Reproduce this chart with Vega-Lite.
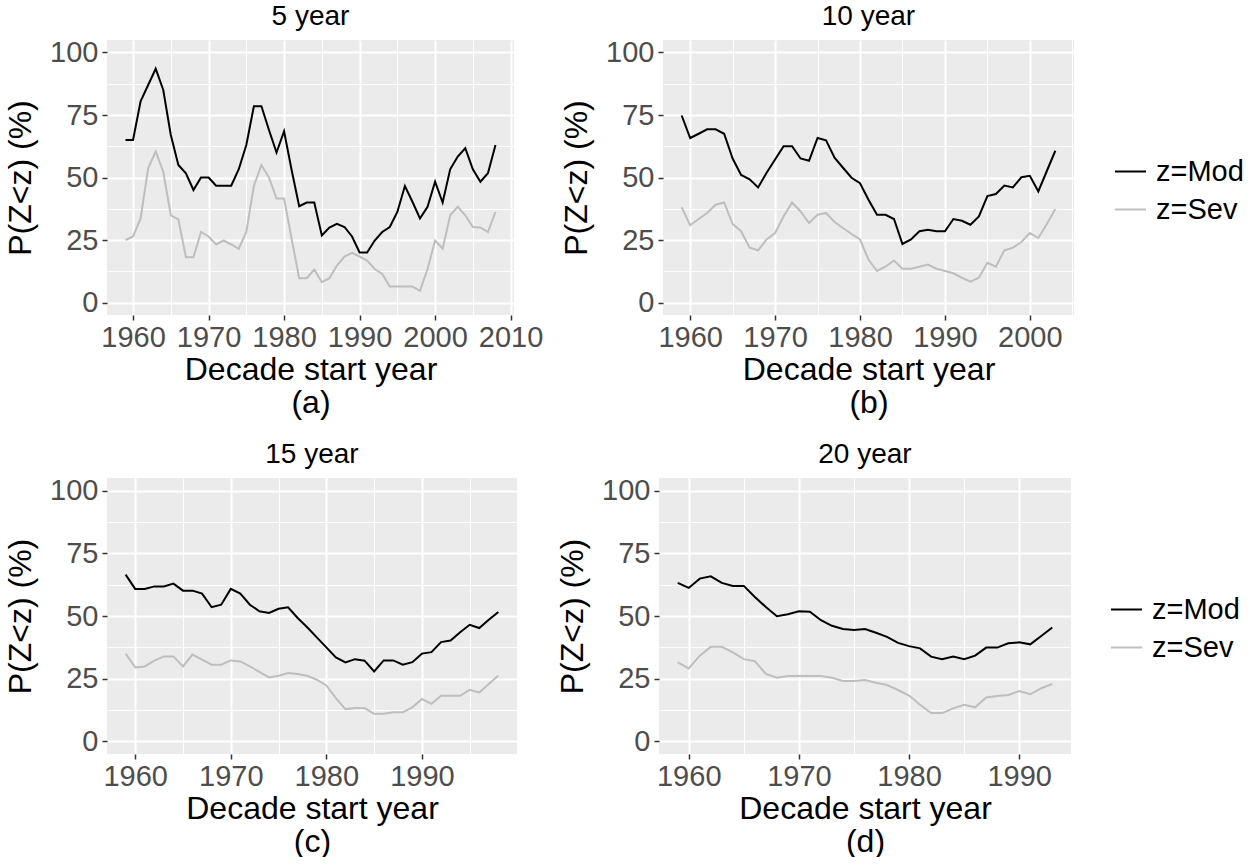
{
"$schema": "https://vega.github.io/schema/vega-lite/v6.json",
"background": "white",
"padding": {"left": 4, "top": 2, "right": 0, "bottom": 0},
"config": {
  "view": {"fill": "#EBEBEB", "stroke": null},
  "font": "Liberation Sans",
  "axis": {"domain": false, "gridColor": "white", "tickColor": "#333333", "tickSize": 5, "tickWidth": 1.5, "labelFont": "Liberation Sans", "labelFontSize": 29, "labelColor": "#4D4D4D", "titleFont": "Liberation Sans", "titleFontSize": 32, "titleFontWeight": "normal", "titleColor": "black", "labelOverlap": false, "labelFlush": false},
  "axisX": {"labelPadding": 3, "titlePadding": 2, "titleLineHeight": 33},
  "axisY": {"labelPadding": 4, "titlePadding": 12},
  "title": {"font": "Liberation Sans", "fontSize": 28, "fontWeight": "normal", "color": "black", "offset": 8},
  "legend": {"title": null, "symbolType": "stroke", "symbolStrokeWidth": 2, "symbolSize": 960, "labelFont": "Liberation Sans", "labelFontSize": 29, "labelColor": "black", "rowPadding": 6, "labelOffset": 9}
},
"datasets": {
"p5": [
{"year":1959,"z":"z=Mod","p":65},{"year":1960,"z":"z=Mod","p":65},{"year":1961,"z":"z=Mod","p":80.5},{"year":1962,"z":"z=Mod","p":87},{"year":1963,"z":"z=Mod","p":93.5},{"year":1964,"z":"z=Mod","p":85},{"year":1965,"z":"z=Mod","p":67},{"year":1966,"z":"z=Mod","p":55},{"year":1967,"z":"z=Mod","p":51.7},{"year":1968,"z":"z=Mod","p":45},{"year":1969,"z":"z=Mod","p":50},{"year":1970,"z":"z=Mod","p":50},{"year":1971,"z":"z=Mod","p":46.7},{"year":1972,"z":"z=Mod","p":46.7},{"year":1973,"z":"z=Mod","p":46.7},{"year":1974,"z":"z=Mod","p":53.3},{"year":1975,"z":"z=Mod","p":63},{"year":1976,"z":"z=Mod","p":78.5},{"year":1977,"z":"z=Mod","p":78.5},{"year":1978,"z":"z=Mod","p":69},{"year":1979,"z":"z=Mod","p":60},{"year":1980,"z":"z=Mod","p":68.5},{"year":1981,"z":"z=Mod","p":53},{"year":1982,"z":"z=Mod","p":38.5},{"year":1983,"z":"z=Mod","p":40},{"year":1984,"z":"z=Mod","p":40},{"year":1985,"z":"z=Mod","p":26.8},{"year":1986,"z":"z=Mod","p":30},{"year":1987,"z":"z=Mod","p":31.5},{"year":1988,"z":"z=Mod","p":30.2},{"year":1989,"z":"z=Mod","p":26.4},{"year":1990,"z":"z=Mod","p":20},{"year":1991,"z":"z=Mod","p":20},{"year":1992,"z":"z=Mod","p":24.8},{"year":1993,"z":"z=Mod","p":28.2},{"year":1994,"z":"z=Mod","p":30.2},{"year":1995,"z":"z=Mod","p":36.2},{"year":1996,"z":"z=Mod","p":46.6},{"year":1997,"z":"z=Mod","p":40.3},{"year":1998,"z":"z=Mod","p":33.6},{"year":1999,"z":"z=Mod","p":38.3},{"year":2000,"z":"z=Mod","p":48.3},{"year":2001,"z":"z=Mod","p":40},{"year":2002,"z":"z=Mod","p":53.3},{"year":2003,"z":"z=Mod","p":58.4},{"year":2004,"z":"z=Mod","p":61.7},{"year":2005,"z":"z=Mod","p":53.3},{"year":2006,"z":"z=Mod","p":48.3},{"year":2007,"z":"z=Mod","p":51.7},{"year":2008,"z":"z=Mod","p":63},
{"year":1959,"z":"z=Sev","p":25},{"year":1960,"z":"z=Sev","p":26.4},{"year":1961,"z":"z=Sev","p":33.6},{"year":1962,"z":"z=Sev","p":53.7},{"year":1963,"z":"z=Sev","p":60.4},{"year":1964,"z":"z=Sev","p":52.3},{"year":1965,"z":"z=Sev","p":34.9},{"year":1966,"z":"z=Sev","p":33.2},{"year":1967,"z":"z=Sev","p":18.1},{"year":1968,"z":"z=Sev","p":18.1},{"year":1969,"z":"z=Sev","p":28.2},{"year":1970,"z":"z=Sev","p":26.4},{"year":1971,"z":"z=Sev","p":23.2},{"year":1972,"z":"z=Sev","p":24.8},{"year":1973,"z":"z=Sev","p":23.2},{"year":1974,"z":"z=Sev","p":21.5},{"year":1975,"z":"z=Sev","p":28.2},{"year":1976,"z":"z=Sev","p":46.6},{"year":1977,"z":"z=Sev","p":55},{"year":1978,"z":"z=Sev","p":50},{"year":1979,"z":"z=Sev","p":41.6},{"year":1980,"z":"z=Sev","p":41.6},{"year":1981,"z":"z=Sev","p":25.5},{"year":1982,"z":"z=Sev","p":9.7},{"year":1983,"z":"z=Sev","p":9.7},{"year":1984,"z":"z=Sev","p":13.2},{"year":1985,"z":"z=Sev","p":8.1},{"year":1986,"z":"z=Sev","p":9.7},{"year":1987,"z":"z=Sev","p":14.8},{"year":1988,"z":"z=Sev","p":18.4},{"year":1989,"z":"z=Sev","p":19.9},{"year":1990,"z":"z=Sev","p":18.4},{"year":1991,"z":"z=Sev","p":16.8},{"year":1992,"z":"z=Sev","p":13.4},{"year":1993,"z":"z=Sev","p":11.4},{"year":1994,"z":"z=Sev","p":6.4},{"year":1995,"z":"z=Sev","p":6.4},{"year":1996,"z":"z=Sev","p":6.4},{"year":1997,"z":"z=Sev","p":6.4},{"year":1998,"z":"z=Sev","p":4.7},{"year":1999,"z":"z=Sev","p":13.4},{"year":2000,"z":"z=Sev","p":24.8},{"year":2001,"z":"z=Sev","p":21.5},{"year":2002,"z":"z=Sev","p":34.9},{"year":2003,"z":"z=Sev","p":38.3},{"year":2004,"z":"z=Sev","p":34.9},{"year":2005,"z":"z=Sev","p":30.2},{"year":2006,"z":"z=Sev","p":30},{"year":2007,"z":"z=Sev","p":28.2},{"year":2008,"z":"z=Sev","p":36.2}
],
"p10": [
{"year":1959,"z":"z=Mod","p":74.8},{"year":1960,"z":"z=Mod","p":65.8},{"year":1961,"z":"z=Mod","p":67.5},{"year":1962,"z":"z=Mod","p":69.3},{"year":1963,"z":"z=Mod","p":69.3},{"year":1964,"z":"z=Mod","p":67.5},{"year":1965,"z":"z=Mod","p":57.6},{"year":1966,"z":"z=Mod","p":51},{"year":1967,"z":"z=Mod","p":49.3},{"year":1968,"z":"z=Mod","p":46},{"year":1969,"z":"z=Mod","p":51.9},{"year":1970,"z":"z=Mod","p":57.2},{"year":1971,"z":"z=Mod","p":62.5},{"year":1972,"z":"z=Mod","p":62.5},{"year":1973,"z":"z=Mod","p":57.6},{"year":1974,"z":"z=Mod","p":56.7},{"year":1975,"z":"z=Mod","p":65.8},{"year":1976,"z":"z=Mod","p":64.9},{"year":1977,"z":"z=Mod","p":57.9},{"year":1978,"z":"z=Mod","p":53.9},{"year":1979,"z":"z=Mod","p":49.9},{"year":1980,"z":"z=Mod","p":47.7},{"year":1981,"z":"z=Mod","p":41.1},{"year":1982,"z":"z=Mod","p":35.1},{"year":1983,"z":"z=Mod","p":35.1},{"year":1984,"z":"z=Mod","p":33.4},{"year":1985,"z":"z=Mod","p":23.4},{"year":1986,"z":"z=Mod","p":25.2},{"year":1987,"z":"z=Mod","p":28.5},{"year":1988,"z":"z=Mod","p":29.1},{"year":1989,"z":"z=Mod","p":28.5},{"year":1990,"z":"z=Mod","p":28.5},{"year":1991,"z":"z=Mod","p":33.4},{"year":1992,"z":"z=Mod","p":32.7},{"year":1993,"z":"z=Mod","p":31.1},{"year":1994,"z":"z=Mod","p":34.4},{"year":1995,"z":"z=Mod","p":42.6},{"year":1996,"z":"z=Mod","p":43.4},{"year":1997,"z":"z=Mod","p":46.8},{"year":1998,"z":"z=Mod","p":46},{"year":1999,"z":"z=Mod","p":50.1},{"year":2000,"z":"z=Mod","p":50.7},{"year":2001,"z":"z=Mod","p":44.4},{"year":2002,"z":"z=Mod","p":52.6},{"year":2003,"z":"z=Mod","p":60.7},
{"year":1959,"z":"z=Sev","p":38.1},{"year":1960,"z":"z=Sev","p":30.9},{"year":1961,"z":"z=Sev","p":33.4},{"year":1962,"z":"z=Sev","p":35.8},{"year":1963,"z":"z=Sev","p":39.1},{"year":1964,"z":"z=Sev","p":40},{"year":1965,"z":"z=Sev","p":31.4},{"year":1966,"z":"z=Sev","p":28.5},{"year":1967,"z":"z=Sev","p":21.9},{"year":1968,"z":"z=Sev","p":20.9},{"year":1969,"z":"z=Sev","p":25.2},{"year":1970,"z":"z=Sev","p":27.8},{"year":1971,"z":"z=Sev","p":34.4},{"year":1972,"z":"z=Sev","p":40},{"year":1973,"z":"z=Sev","p":36.4},{"year":1974,"z":"z=Sev","p":31.8},{"year":1975,"z":"z=Sev","p":35.1},{"year":1976,"z":"z=Sev","p":35.8},{"year":1977,"z":"z=Sev","p":32.2},{"year":1978,"z":"z=Sev","p":29.8},{"year":1979,"z":"z=Sev","p":27.4},{"year":1980,"z":"z=Sev","p":25.2},{"year":1981,"z":"z=Sev","p":17.2},{"year":1982,"z":"z=Sev","p":12.6},{"year":1983,"z":"z=Sev","p":14.3},{"year":1984,"z":"z=Sev","p":16.8},{"year":1985,"z":"z=Sev","p":13.5},{"year":1986,"z":"z=Sev","p":13.5},{"year":1987,"z":"z=Sev","p":14.3},{"year":1988,"z":"z=Sev","p":15.2},{"year":1989,"z":"z=Sev","p":13.5},{"year":1990,"z":"z=Sev","p":12.6},{"year":1991,"z":"z=Sev","p":11.7},{"year":1992,"z":"z=Sev","p":9.9},{"year":1993,"z":"z=Sev","p":8.3},{"year":1994,"z":"z=Sev","p":9.9},{"year":1995,"z":"z=Sev","p":15.9},{"year":1996,"z":"z=Sev","p":14.3},{"year":1997,"z":"z=Sev","p":20.9},{"year":1998,"z":"z=Sev","p":21.9},{"year":1999,"z":"z=Sev","p":24.2},{"year":2000,"z":"z=Sev","p":27.8},{"year":2001,"z":"z=Sev","p":25.8},{"year":2002,"z":"z=Sev","p":31.4},{"year":2003,"z":"z=Sev","p":37.4}
],
"p15": [
{"year":1959,"z":"z=Mod","p":66.5},{"year":1960,"z":"z=Mod","p":60.8},{"year":1961,"z":"z=Mod","p":60.8},{"year":1962,"z":"z=Mod","p":61.8},{"year":1963,"z":"z=Mod","p":61.8},{"year":1964,"z":"z=Mod","p":62.9},{"year":1965,"z":"z=Mod","p":60.1},{"year":1966,"z":"z=Mod","p":60.1},{"year":1967,"z":"z=Mod","p":58.9},{"year":1968,"z":"z=Mod","p":53.5},{"year":1969,"z":"z=Mod","p":54.5},{"year":1970,"z":"z=Mod","p":60.8},{"year":1971,"z":"z=Mod","p":58.9},{"year":1972,"z":"z=Mod","p":54.5},{"year":1973,"z":"z=Mod","p":51.9},{"year":1974,"z":"z=Mod","p":51.2},{"year":1975,"z":"z=Mod","p":52.9},{"year":1976,"z":"z=Mod","p":53.5},{"year":1977,"z":"z=Mod","p":49.2},{"year":1978,"z":"z=Mod","p":45.5},{"year":1979,"z":"z=Mod","p":41.5},{"year":1980,"z":"z=Mod","p":37.5},{"year":1981,"z":"z=Mod","p":33.5},{"year":1982,"z":"z=Mod","p":31.5},{"year":1983,"z":"z=Mod","p":32.8},{"year":1984,"z":"z=Mod","p":32.2},{"year":1985,"z":"z=Mod","p":27.9},{"year":1986,"z":"z=Mod","p":32.3},{"year":1987,"z":"z=Mod","p":32.3},{"year":1988,"z":"z=Mod","p":30.6},{"year":1989,"z":"z=Mod","p":31.6},{"year":1990,"z":"z=Mod","p":35},{"year":1991,"z":"z=Mod","p":35.6},{"year":1992,"z":"z=Mod","p":39.6},{"year":1993,"z":"z=Mod","p":40.2},{"year":1994,"z":"z=Mod","p":43.5},{"year":1995,"z":"z=Mod","p":46.5},{"year":1996,"z":"z=Mod","p":45.2},{"year":1997,"z":"z=Mod","p":48.5},{"year":1998,"z":"z=Mod","p":51.6},
{"year":1959,"z":"z=Sev","p":35},{"year":1960,"z":"z=Sev","p":29.5},{"year":1961,"z":"z=Sev","p":29.9},{"year":1962,"z":"z=Sev","p":32.2},{"year":1963,"z":"z=Sev","p":33.9},{"year":1964,"z":"z=Sev","p":33.9},{"year":1965,"z":"z=Sev","p":29.9},{"year":1966,"z":"z=Sev","p":34.6},{"year":1967,"z":"z=Sev","p":32.6},{"year":1968,"z":"z=Sev","p":30.6},{"year":1969,"z":"z=Sev","p":30.6},{"year":1970,"z":"z=Sev","p":32.3},{"year":1971,"z":"z=Sev","p":31.9},{"year":1972,"z":"z=Sev","p":29.9},{"year":1973,"z":"z=Sev","p":27.7},{"year":1974,"z":"z=Sev","p":25.5},{"year":1975,"z":"z=Sev","p":26.2},{"year":1976,"z":"z=Sev","p":27.3},{"year":1977,"z":"z=Sev","p":26.9},{"year":1978,"z":"z=Sev","p":26.2},{"year":1979,"z":"z=Sev","p":24.6},{"year":1980,"z":"z=Sev","p":22.3},{"year":1981,"z":"z=Sev","p":17.3},{"year":1982,"z":"z=Sev","p":12.9},{"year":1983,"z":"z=Sev","p":13.3},{"year":1984,"z":"z=Sev","p":13.3},{"year":1985,"z":"z=Sev","p":11},{"year":1986,"z":"z=Sev","p":11},{"year":1987,"z":"z=Sev","p":11.6},{"year":1988,"z":"z=Sev","p":11.6},{"year":1989,"z":"z=Sev","p":13.6},{"year":1990,"z":"z=Sev","p":16.9},{"year":1991,"z":"z=Sev","p":15},{"year":1992,"z":"z=Sev","p":18.2},{"year":1993,"z":"z=Sev","p":18.2},{"year":1994,"z":"z=Sev","p":18.2},{"year":1995,"z":"z=Sev","p":20.6},{"year":1996,"z":"z=Sev","p":19.5},{"year":1997,"z":"z=Sev","p":22.9},{"year":1998,"z":"z=Sev","p":26.3}
],
"p20": [
{"year":1959,"z":"z=Mod","p":63.2},{"year":1960,"z":"z=Mod","p":61.2},{"year":1961,"z":"z=Mod","p":64.9},{"year":1962,"z":"z=Mod","p":65.8},{"year":1963,"z":"z=Mod","p":63.2},{"year":1964,"z":"z=Mod","p":62},{"year":1965,"z":"z=Mod","p":62},{"year":1966,"z":"z=Mod","p":57.6},{"year":1967,"z":"z=Mod","p":53.6},{"year":1968,"z":"z=Mod","p":49.9},{"year":1969,"z":"z=Mod","p":50.7},{"year":1970,"z":"z=Mod","p":51.9},{"year":1971,"z":"z=Mod","p":51.7},{"year":1972,"z":"z=Mod","p":48.3},{"year":1973,"z":"z=Mod","p":46.1},{"year":1974,"z":"z=Mod","p":44.8},{"year":1975,"z":"z=Mod","p":44.4},{"year":1976,"z":"z=Mod","p":44.8},{"year":1977,"z":"z=Mod","p":43.3},{"year":1978,"z":"z=Mod","p":41.7},{"year":1979,"z":"z=Mod","p":39.3},{"year":1980,"z":"z=Mod","p":38},{"year":1981,"z":"z=Mod","p":37.1},{"year":1982,"z":"z=Mod","p":33.8},{"year":1983,"z":"z=Mod","p":32.8},{"year":1984,"z":"z=Mod","p":33.8},{"year":1985,"z":"z=Mod","p":32.8},{"year":1986,"z":"z=Mod","p":34.2},{"year":1987,"z":"z=Mod","p":37.4},{"year":1988,"z":"z=Mod","p":37.4},{"year":1989,"z":"z=Mod","p":39.1},{"year":1990,"z":"z=Mod","p":39.5},{"year":1991,"z":"z=Mod","p":38.7},{"year":1992,"z":"z=Mod","p":42},{"year":1993,"z":"z=Mod","p":45.4},
{"year":1959,"z":"z=Sev","p":31.5},{"year":1960,"z":"z=Sev","p":29.1},{"year":1961,"z":"z=Sev","p":34.2},{"year":1962,"z":"z=Sev","p":37.7},{"year":1963,"z":"z=Sev","p":37.7},{"year":1964,"z":"z=Sev","p":35.5},{"year":1965,"z":"z=Sev","p":32.8},{"year":1966,"z":"z=Sev","p":32},{"year":1967,"z":"z=Sev","p":26.9},{"year":1968,"z":"z=Sev","p":25.4},{"year":1969,"z":"z=Sev","p":26.1},{"year":1970,"z":"z=Sev","p":26.1},{"year":1971,"z":"z=Sev","p":26.1},{"year":1972,"z":"z=Sev","p":26.1},{"year":1973,"z":"z=Sev","p":25.4},{"year":1974,"z":"z=Sev","p":24.1},{"year":1975,"z":"z=Sev","p":24.1},{"year":1976,"z":"z=Sev","p":24.5},{"year":1977,"z":"z=Sev","p":23.4},{"year":1978,"z":"z=Sev","p":22.5},{"year":1979,"z":"z=Sev","p":20.5},{"year":1980,"z":"z=Sev","p":18.3},{"year":1981,"z":"z=Sev","p":14.6},{"year":1982,"z":"z=Sev","p":11.3},{"year":1983,"z":"z=Sev","p":11.3},{"year":1984,"z":"z=Sev","p":13.2},{"year":1985,"z":"z=Sev","p":14.6},{"year":1986,"z":"z=Sev","p":13.6},{"year":1987,"z":"z=Sev","p":17.5},{"year":1988,"z":"z=Sev","p":18.1},{"year":1989,"z":"z=Sev","p":18.5},{"year":1990,"z":"z=Sev","p":20.1},{"year":1991,"z":"z=Sev","p":18.8},{"year":1992,"z":"z=Sev","p":21.2},{"year":1993,"z":"z=Sev","p":22.9}
]
},
"spacing": 22,
"resolve": {"scale": {"color": "independent"}, "legend": {"color": "independent"}},
"vconcat": [
{
 "hconcat": [
  {
   "data": {"name": "p5"}, "width": 407, "height": 275, "title": "5 year",
   "mark": {"type": "line", "strokeWidth": 2},
   "encoding": {
    "x": {"field": "year", "type": "quantitative", "scale": {"domain": [1956.55, 2010.45], "nice": false, "zero": false},
      "axis": {"title": ["Decade start year", "(a)"], "values": [1960,1965,1970,1975,1980,1985,1990,1995,2000,2005,2010], "format": "d", "labelExpr": "datum.value % 10 === 0 ? datum.label : ''", "tickOpacity": {"condition": {"test": "datum.value % 10 === 0", "value": 1}, "value": 0}, "gridWidth": {"condition": {"test": "datum.value % 10 === 0", "value": 2}, "value": 1}}},
    "y": {"field": "p", "type": "quantitative", "scale": {"domain": [-5, 105], "nice": false, "zero": false},
      "axis": {"title": "P(Z<z) (%)", "values": [0,12.5,25,37.5,50,62.5,75,87.5,100], "labelExpr": "datum.value % 25 === 0 ? datum.label : ''", "tickOpacity": {"condition": {"test": "datum.value % 25 === 0", "value": 1}, "value": 0}, "gridWidth": {"condition": {"test": "datum.value % 25 === 0", "value": 2}, "value": 1}}},
    "color": {"field": "z", "type": "nominal", "scale": {"domain": ["z=Mod", "z=Sev"], "range": ["#000000", "#BEBEBE"]}, "legend": null}
   }
  },
  {
   "data": {"name": "p10"}, "width": 411, "height": 275, "title": "10 year",
   "mark": {"type": "line", "strokeWidth": 2},
   "encoding": {
    "x": {"field": "year", "type": "quantitative", "scale": {"domain": [1956.8, 2005.2], "nice": false, "zero": false},
      "axis": {"title": ["Decade start year", "(b)"], "values": [1960,1965,1970,1975,1980,1985,1990,1995,2000,2005], "format": "d", "labelExpr": "datum.value % 10 === 0 ? datum.label : ''", "tickOpacity": {"condition": {"test": "datum.value % 10 === 0", "value": 1}, "value": 0}, "gridWidth": {"condition": {"test": "datum.value % 10 === 0", "value": 2}, "value": 1}}},
    "y": {"field": "p", "type": "quantitative", "scale": {"domain": [-5, 105], "nice": false, "zero": false},
      "axis": {"title": "P(Z<z) (%)", "values": [0,12.5,25,37.5,50,62.5,75,87.5,100], "labelExpr": "datum.value % 25 === 0 ? datum.label : ''", "tickOpacity": {"condition": {"test": "datum.value % 25 === 0", "value": 1}, "value": 0}, "gridWidth": {"condition": {"test": "datum.value % 25 === 0", "value": 2}, "value": 1}}},
    "color": {"field": "z", "type": "nominal", "scale": {"domain": ["z=Mod", "z=Sev"], "range": ["#000000", "#BEBEBE"]}, "legend": {"orient": "none", "legendX": 451, "legendY": 115}}
   }
  }
 ],
 "spacing": 17,
 "resolve": {"scale": {"color": "independent"}, "legend": {"color": "independent"}}
},
{
 "hconcat": [
  {
   "data": {"name": "p15"}, "width": 410, "height": 276, "title": "15 year",
   "mark": {"type": "line", "strokeWidth": 2},
   "encoding": {
    "x": {"field": "year", "type": "quantitative", "scale": {"domain": [1957.05, 1999.95], "nice": false, "zero": false},
      "axis": {"title": ["Decade start year", "(c)"], "values": [1960,1965,1970,1975,1980,1985,1990,1995], "format": "d", "labelExpr": "datum.value % 10 === 0 ? datum.label : ''", "tickOpacity": {"condition": {"test": "datum.value % 10 === 0", "value": 1}, "value": 0}, "gridWidth": {"condition": {"test": "datum.value % 10 === 0", "value": 2}, "value": 1}}},
    "y": {"field": "p", "type": "quantitative", "scale": {"domain": [-5, 105], "nice": false, "zero": false},
      "axis": {"title": "P(Z<z) (%)", "values": [0,12.5,25,37.5,50,62.5,75,87.5,100], "labelExpr": "datum.value % 25 === 0 ? datum.label : ''", "tickOpacity": {"condition": {"test": "datum.value % 25 === 0", "value": 1}, "value": 0}, "gridWidth": {"condition": {"test": "datum.value % 25 === 0", "value": 2}, "value": 1}}},
    "color": {"field": "z", "type": "nominal", "scale": {"domain": ["z=Mod", "z=Sev"], "range": ["#000000", "#BEBEBE"]}, "legend": null}
   }
  },
  {
   "data": {"name": "p20"}, "width": 412, "height": 276, "title": "20 year",
   "mark": {"type": "line", "strokeWidth": 2},
   "encoding": {
    "x": {"field": "year", "type": "quantitative", "scale": {"domain": [1957.3, 1994.7], "nice": false, "zero": false},
      "axis": {"title": ["Decade start year", "(d)"], "values": [1960,1965,1970,1975,1980,1985,1990], "format": "d", "labelExpr": "datum.value % 10 === 0 ? datum.label : ''", "tickOpacity": {"condition": {"test": "datum.value % 10 === 0", "value": 1}, "value": 0}, "gridWidth": {"condition": {"test": "datum.value % 10 === 0", "value": 2}, "value": 1}}},
    "y": {"field": "p", "type": "quantitative", "scale": {"domain": [-5, 105], "nice": false, "zero": false},
      "axis": {"title": "P(Z<z) (%)", "values": [0,12.5,25,37.5,50,62.5,75,87.5,100], "labelExpr": "datum.value % 25 === 0 ? datum.label : ''", "tickOpacity": {"condition": {"test": "datum.value % 25 === 0", "value": 1}, "value": 0}, "gridWidth": {"condition": {"test": "datum.value % 25 === 0", "value": 2}, "value": 1}}},
    "color": {"field": "z", "type": "nominal", "scale": {"domain": ["z=Mod", "z=Sev"], "range": ["#000000", "#BEBEBE"]}, "legend": {"orient": "none", "legendX": 451, "legendY": 115}}
   }
  }
 ],
 "spacing": 39,
 "resolve": {"scale": {"color": "independent"}, "legend": {"color": "independent"}}
}
]
}
